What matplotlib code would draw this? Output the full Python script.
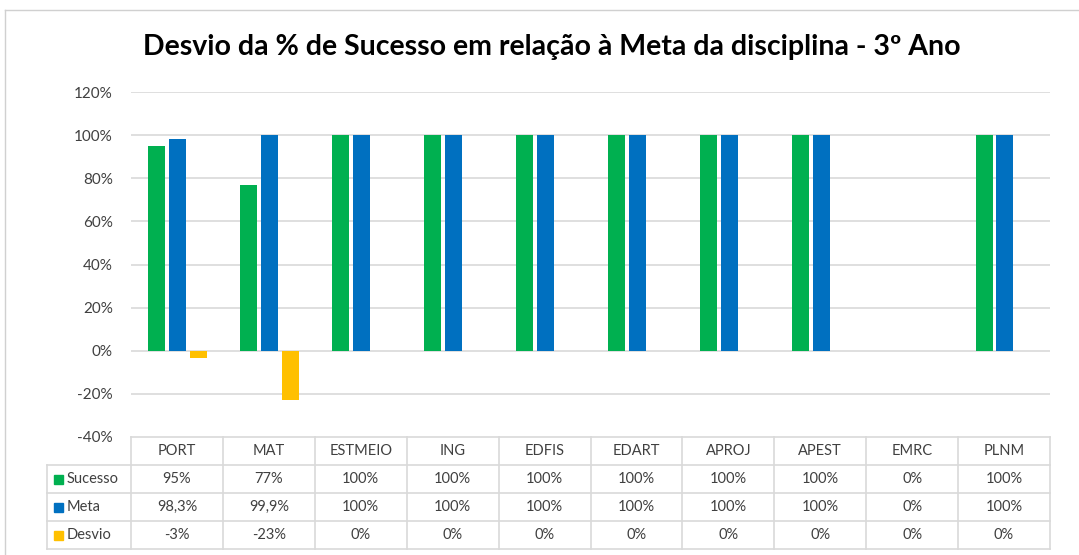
import numpy as np
import matplotlib.pyplot as plt
import matplotlib.transforms as mtransforms
from matplotlib.lines import Line2D
from matplotlib.patches import Rectangle

# ==============================================================================
disciplinas = ["PORT", "MAT", "ESTMEIO", "ING", "EDFIS", "EDART", "APROJ", "APEST", "EMRC", "PLNM"]
sucesso = [95, 77, 100, 100, 100, 100, 100, 100, 0, 100]
meta = [98.3, 99.9, 100, 100, 100, 100, 100, 100, 0, 100]
desvio = [-3.3, -22.9, 0, 0, 0, 0, 0, 0, 0, 0]
sucesso_txt = ["95%", "77%", "100%", "100%", "100%", "100%", "100%", "100%", "0%", "100%"]
meta_txt = ["98,3%", "99,9%", "100%", "100%", "100%", "100%", "100%", "100%", "0%", "100%"]
desvio_txt = ["-3%", "-23%", "0%", "0%", "0%", "0%", "0%", "0%", "0%", "0%"]
series_names = ["Sucesso", "Meta", "Desvio"]
colors = ["#00b050", "#0070c0", "#ffc000"]
yticks = [-40, -20, 0, 20, 40, 60, 80, 100, 120]
title = "Desvio da % de Sucesso em relação à Meta da disciplina - 3º Ano"

plt.rcParams['font.family'] = ['Lato', 'DejaVu Sans']
W, H = 1079, 555
grid_col = "#d9d9d9"
txt_col = "#404040"

def fy(px):
    return 1 - px / H

def fx(px):
    return px / W

# ==============================================================================
fig = plt.figure(figsize=(W / 100, H / 100), dpi=100)
ax = fig.add_axes([fx(131), fy(437), fx(1050) - fx(131), fy(92) - fy(437)])

x = np.arange(len(disciplinas))
step = 0.228
bw = 0.185
for k, (vals, c) in enumerate(zip([sucesso, meta, desvio], colors)):
    ax.bar(x + (k - 1) * step + 0.01, vals, width=bw, color=c, zorder=3)

ax.set_xlim(-0.5, len(disciplinas) - 0.5)
ax.set_ylim(-40, 120)
ax.set_yticks(yticks)
ax.set_yticklabels(["%d%%" % v for v in yticks], fontsize=11, color=txt_col)
ax.tick_params(axis='y', length=0, pad=13)
ax.set_xticks([])
for s in ax.spines.values():
    s.set_visible(False)
for v in yticks[1:]:
    ax.axhline(v, color=grid_col, lw=1.2, zorder=1)

# data table ------------------------------------------------------------------
tr = mtransforms.blended_transform_factory(ax.transData, fig.transFigure)
rows_px = [437, 465, 493, 521, 549]
n = len(disciplinas)
# horizontal lines
ax.add_line(Line2D([-0.5, n - 0.5], [fy(437)] * 2, transform=tr, color=grid_col, lw=1.2, clip_on=False))
for py in rows_px[1:]:
    fig.add_artist(Line2D([fx(47), fx(1050)], [fy(py)] * 2, color=grid_col, lw=1.2))
# vertical lines
for i in range(n + 1):
    ax.add_line(Line2D([i - 0.5, i - 0.5], [fy(437), fy(549)], transform=tr,
                       color=grid_col, lw=1.2, clip_on=False))
fig.add_artist(Line2D([fx(47), fx(47)], [fy(465), fy(549)], color=grid_col, lw=1.2))

table_rows = [disciplinas, sucesso_txt, meta_txt, desvio_txt]
for r, row in enumerate(table_rows):
    yc = fy((rows_px[r] + rows_px[r + 1]) / 2)
    for i, t in enumerate(row):
        ax.text(i, yc, t, transform=tr, ha='center', va='center', fontsize=10.5,
                color=txt_col, clip_on=False)

for r, (name, c) in enumerate(zip(series_names, colors)):
    yc = fy((rows_px[r + 1] + rows_px[r + 2]) / 2)
    fig.add_artist(Rectangle((fx(54), yc - 4.5 / H), 9 / W, 9 / H, color=c))
    fig.text(fx(67), yc, name, ha='left', va='center', fontsize=10.5, color=txt_col)

# title and frame --------------------------------------------------------------
fig.text(fx(552), fy(47), title, ha='center', va='center', fontsize=20.5,
         fontweight='bold', color="#000000")
fig.add_artist(Line2D([fx(5), 1], [fy(10)] * 2, color="#d0d0d0", lw=1))
fig.add_artist(Line2D([fx(5), fx(5)], [fy(10), 0], color="#d0d0d0", lw=1))

fig.savefig("out.png", dpi=100)
